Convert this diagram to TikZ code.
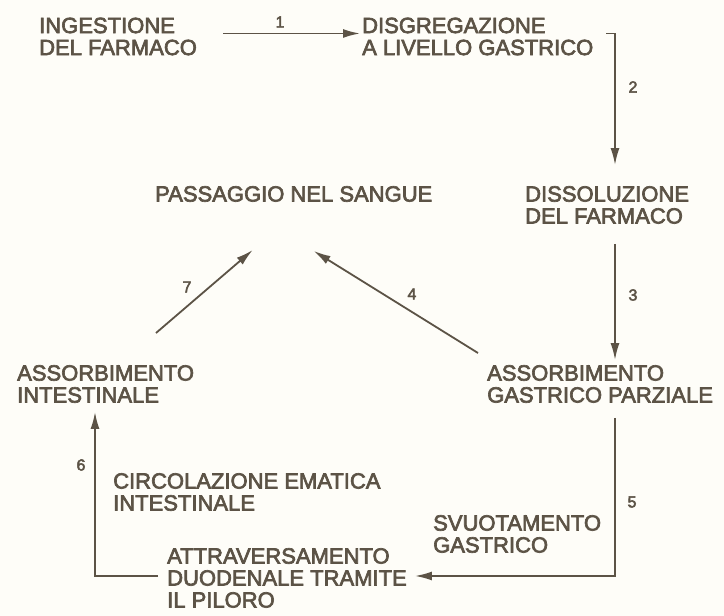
\documentclass[tikz,border=0pt]{standalone}
\usepackage{fontspec}
\newfontfamily\labfont{Liberation Sans}[FakeBold=3]
\usetikzlibrary{arrows.meta,calc}
\definecolor{ink}{RGB}{92,83,70}
\definecolor{paper}{RGB}{254,253,248}
\begin{document}
\begin{tikzpicture}[x=1pt,y=-1pt,
  txt/.style={anchor=north west,inner sep=0pt,align=left,text=ink,
    font=\labfont\fontsize{22}{22}\selectfont},
  num/.style={inner sep=0pt,text=ink,font=\labfont\fontsize{16}{16}\selectfont},
  arr/.style={draw=ink,line width=1.8pt,
    -{Latex[length=17pt,width=9pt]}},
  ln/.style={draw=ink,line width=1.8pt}]
\fill[paper] (0,0) rectangle (724,616);
\useasboundingbox (0,0) rectangle (724,616);
% column guides
\coordinate (rx) at (615,0);
\coordinate (lx) at (95,0);
% blocks
\node[txt] (ing) at (39,17.5) {INGESTIONE\\DEL FARMACO};
\node[txt] (dis) at (362,17.5) {DISGREGAZIONE\\A LIVELLO GASTRICO};
\node[txt] (diss) at (525,186) {DISSOLUZIONE\\DEL FARMACO};
\node[txt] (pass) at (155,186) {PASSAGGIO NEL SANGUE};
\node[txt] (assg) at (487,365) {ASSORBIMENTO\\GASTRICO PARZIALE};
\node[txt] (assi) at (17,365) {ASSORBIMENTO\\INTESTINALE};
\node[txt] (circ) at (113,473) {CIRCOLAZIONE EMATICA\\INTESTINALE};
\node[txt] (svu) at (433,515) {SVUOTAMENTO\\GASTRICO};
\node[txt] (att) at (167,548) {ATTRAVERSAMENTO\\DUODENALE TRAMITE\\IL PILORO};
% connectors
\draw[arr] ($(ing.west)+(184,-3)$) -- ($(dis.west)+(-2,-3)$);
\draw[arr] ($(rx |- dis.west)+(-9,-3)$) -| ($(rx |- diss.north)+(0,-21)$);
\draw[arr] ($(rx |- diss.south)+(0,20)$) -- ($(rx |- assg.north)+(0,-5)$);
\draw[arr] ($(assg.north west)+(-9,-12)$) -- ($(pass.south)+(20,49)$);
\draw[arr] ($(assi.north west)+(139,-32)$) -- ($(pass.south)+(-41,48)$);
\draw[arr] ($(rx |- assg.south)+(0,15)$) |- ($(att.east)+(8,-2)$);
\draw[arr] ($(att.west)+(-9,-2)$) -| ($(lx |- assi.south)+(0,9)$);
% numbers
\node[num] (n1) at (280,22) {1};
\node[num] (n2) at (633,87) {2};
\node[num] (n3) at (633,295) {3};
\node[num] (n4) at (412,294) {4};
\node[num] (n5) at (632,502) {5};
\node[num] (n6) at (81,465) {6};
\node[num] (n7) at (187,287) {7};
\end{tikzpicture}
\end{document}
